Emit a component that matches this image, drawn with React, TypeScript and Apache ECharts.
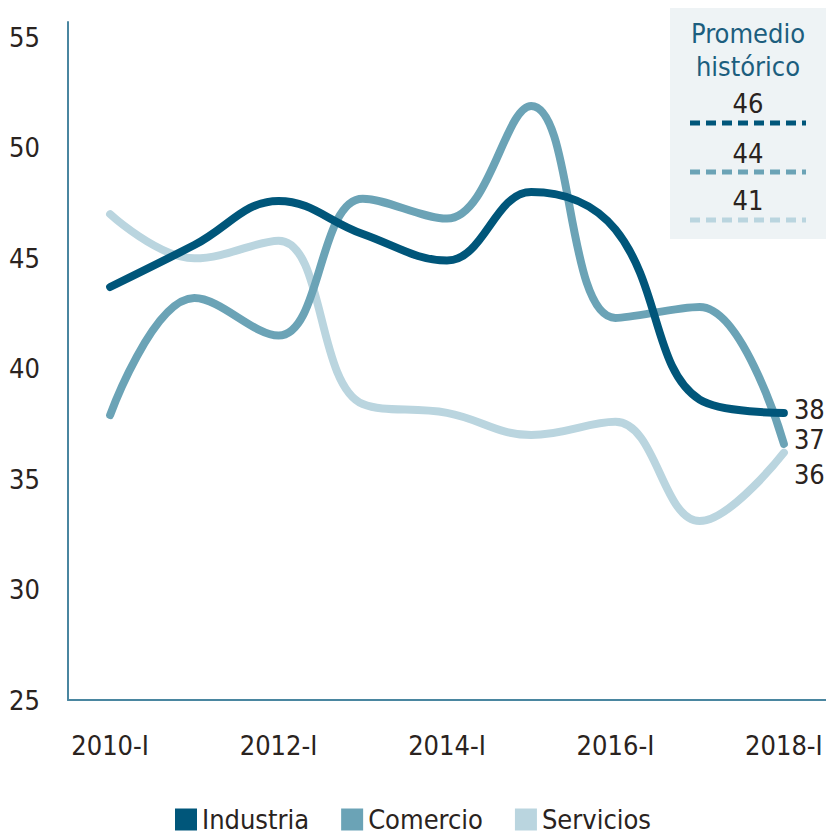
import React, { useEffect, useRef } from "react";
import * as echarts from "echarts";

const categories = ["2010-I", "2011-I", "2012-I", "2013-I", "2014-I", "2015-I", "2016-I", "2017-I", "2018-I"];
const industria = [43.7, 45.6, 47.6, 46.1, 44.9, 48.0, 46.3, 38.6, 38.0];
const comercio = [37.9, 43.2, 41.5, 47.7, 46.8, 51.9, 42.3, 42.8, 36.6];
const servicios = [47.0, 45.0, 45.8, 38.4, 38.0, 37.0, 37.6, 33.1, 36.2];
const endLabels = ["38", "37", "36"];
const seriesNames = ["Industria", "Comercio", "Servicios"];
const promedios = ["46", "44", "41"];
const yTicks = [25, 30, 35, 40, 45, 50, 55];

const colors = ["#00567a", "#6ba3b6", "#bad5df"];
const FONT = "'DejaVu Sans Condensed', 'Liberation Sans', sans-serif";
const TEXT = "#2a2320";
const FS = 27;

export default function App() {
  const ref = useRef<HTMLDivElement>(null);
  useEffect(() => {
    document.body.style.margin = "0";
    const chart = echarts.init(ref.current!, null, { renderer: "svg" });
    const data = [industria, comercio, servicios];
    const labelOffsets = [[0, -3], [0, -4], [0, 22]];
    const series = data.map((d, i) => ({
      name: seriesNames[i],
      type: "line",
      data: d,
      smooth: 0.4,
      symbol: "none",
      lineStyle: { width: 8, color: colors[i], cap: "round" },
      itemStyle: { color: colors[i] },
      z: 3 - i,
      endLabel: {
        show: true,
        formatter: () => endLabels[i],
        color: TEXT,
        fontFamily: FONT,
        fontSize: FS,
        lineHeight: 28,
        distance: 10,
        offset: labelOffsets[i],
      },
    }));

    const boxX = 670;
    const cx = 748;
    const dash = (y: number, c: string) => ({
      type: "line",
      shape: { x1: 690, y1: y, x2: 806, y2: y },
      style: { stroke: c, lineWidth: 5, lineDash: [10, 6] },
    });
    const txt = (t: string, y: number, c: string) => ({
      type: "text",
      x: cx,
      y,
      style: { text: t, fill: c, font: `${FS}px ${FONT}`, align: "center", verticalAlign: "middle" },
    });

    chart.setOption({
      animation: false,
      grid: { left: 68, right: 0, top: 22, bottom: 136 },
      legend: {
        bottom: -2,
        left: "center",
        itemWidth: 22,
        itemHeight: 22,
        itemGap: 32,
        icon: "rect",
        textStyle: { fontFamily: FONT, fontSize: FS, color: TEXT },
        data: seriesNames,
      },
      xAxis: {
        type: "category",
        data: categories,
        boundaryGap: true,
        axisLine: { lineStyle: { color: "#4a86a0", width: 2 } },
        axisTick: { show: false },
        axisLabel: {
          interval: 1,
          margin: 32,
          fontFamily: FONT,
          fontSize: FS,
          color: TEXT,
        },
      },
      yAxis: {
        type: "value",
        min: 25,
        max: 55.7,
        interval: 5,
        axisLine: { show: true, lineStyle: { color: "#4a86a0", width: 2 } },
        axisTick: { show: false },
        splitLine: { show: false },
        axisLabel: {
          margin: 28,
          fontFamily: FONT,
          fontSize: FS,
          color: TEXT,
          formatter: (v: number) => (yTicks.includes(Math.round(v * 100) / 100) ? String(v) : ""),
        },
      },
      graphic: [
        {
          type: "rect",
          shape: { x: boxX, y: 8, width: 826 - boxX, height: 231 },
          style: { fill: "#eef3f5" },
          z: 0,
        },
        txt("Promedio", 33, "#1c5e7e"),
        txt("histórico", 66, "#1c5e7e"),
        txt(promedios[0], 103, TEXT),
        dash(123, colors[0]),
        txt(promedios[1], 153, TEXT),
        dash(172, colors[1]),
        txt(promedios[2], 200, TEXT),
        dash(220, colors[2]),
      ],
      series,
    });
    return () => chart.dispose();
  }, []);
  return <div ref={ref} style={{ width: 826, height: 836 }} />;
}
